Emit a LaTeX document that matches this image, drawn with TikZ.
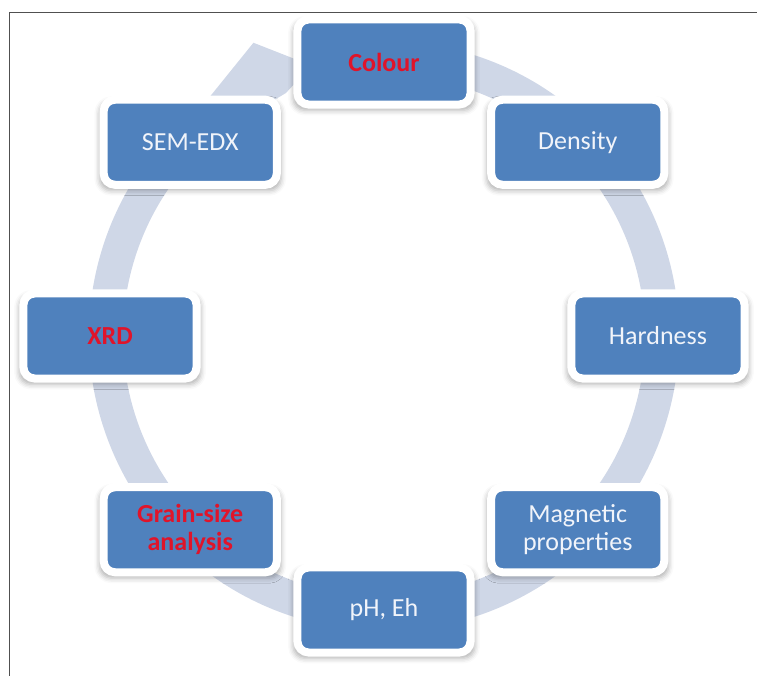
\documentclass[tikz,border=0pt]{standalone}
\usepackage{fontspec}
\setmainfont{Carlito}
\usetikzlibrary{shadows.blur}
\definecolor{boxblue}{RGB}{79,129,189}
\definecolor{ringblue}{RGB}{207,215,231}
\definecolor{txtred}{RGB}{224,20,42}
\definecolor{txtwhite}{RGB}{241,244,250}
\definecolor{framegray}{RGB}{80,80,80}

\begin{document}
\begin{tikzpicture}[x=0.025cm,y=0.025cm,
 every node/.style={font=\fontsize{18.5}{20}\selectfont},
 box/.style={fill=boxblue,draw=white,line width=0.2cm,rounded corners=0.28cm,
  minimum width=4.325cm,minimum height=2.125cm,align=center,text=txtwhite,
  blur shadow={shadow xshift=0pt,shadow yshift=-0.09cm,shadow scale=1.05,
   shadow blur radius=0.12cm,shadow opacity=30}},
 hot/.style={text=txtred,font=\fontsize{18.5}{20}\selectfont\bfseries}]
\useasboundingbox (-384,-340) rectangle (373,336);
\draw[framegray,line width=0.6pt] (-375,-340) -- (-375,324) -- (373,324);
% cycle arrow, head ends under the first box
\draw[ringblue,line width=0.85cm] (75:278) arc[start angle=75,end angle=-234,radius=278];
\fill[ringblue] (126:296) -- (114:321) -- (105:280) -- (112:262) -- (126:260) -- cycle;
\node[box,hot] (colour) at (90:274) {Colour};
\node[box] (density) at (45:274) {Density};
\node[box] (hardness) at (0:274) {Hardness};
\node[box] (magnetic) at (-45:274) {Magnetic\\properties};
\node[box] (ph) at (-90:274) {pH, Eh};
\node[box,hot] (grain) at (-135:274) {Grain-size\\analysis};
\node[box,hot] (xrd) at (180:274) {XRD};
\node[box] (sem) at (135:274) {SEM-EDX};
\end{tikzpicture}
\end{document}
